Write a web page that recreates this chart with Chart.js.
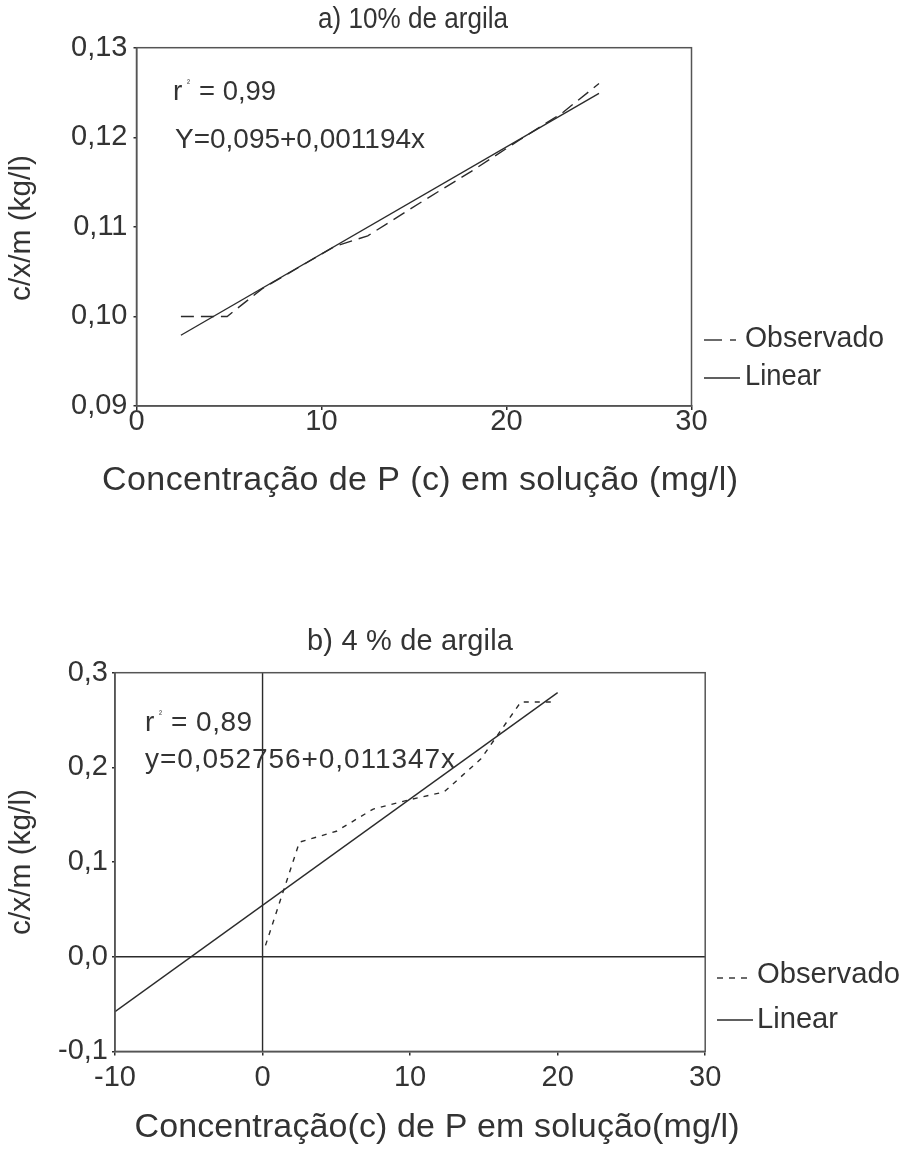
<!DOCTYPE html>
<html>
<head>
<meta charset="utf-8">
<script src="https://cdn.jsdelivr.net/npm/chart.js@4/dist/chart.umd.min.js"></script>
<style>
  body { margin: 0; background: #fff; width: 908px; height: 1155px; position: relative; overflow: hidden; }
  canvas { position: absolute; left: 0; }
  #c1 { top: 0; }
  #c2 { top: 560px; }
</style>
</head>
<body>
<canvas id="c1" width="908" height="540" style="width:908px;height:540px"></canvas>
<canvas id="c2" width="908" height="595" style="width:908px;height:595px"></canvas>
<script>
// a) 10% de argila
var obsA_x = [2.4, 4.9, 6.8, 10.7, 12.5, 15.5, 18.1, 20.7, 23, 25];
var obsA_y = [0.100, 0.100, 0.1031, 0.1078, 0.1090, 0.1129, 0.1162, 0.1197, 0.1227, 0.1260];
var linA_x = [2.4, 25];
var linA_y = [0.0979, 0.1249];
var ticksA_x = [0, 10, 20, 30];
var ticksA_y = [0.09, 0.10, 0.11, 0.12, 0.13];

// b) 4 % de argila
var obsB_x = [0.2, 2.5, 5, 7.5, 10, 12.3, 14.8, 17.5, 19.7];
var obsB_y = [0.012, 0.121, 0.1325, 0.156, 0.166, 0.174, 0.209, 0.269, 0.269];
var linB_x = [-10, 20];
var linB_y = [-0.058, 0.279];
var ticksB_x = [-10, 0, 10, 20, 30];
var ticksB_y = [-0.1, 0.0, 0.1, 0.2, 0.3];

var FONT = "'Liberation Sans Narrow', 'Arial Narrow', 'Liberation Sans', Arial, sans-serif";
var INK = '#2b2b2b';
var TXT = '#333';

Chart.defaults.font.family = FONT;
Chart.defaults.color = TXT;

function pts(xs, ys) {
  return xs.map(function (x, i) { return {x: x, y: ys[i]}; });
}

// draws text stretched/squeezed to a given width
function fitText(ctx, txt, x, y, size, w, align, rot) {
  ctx.save();
  ctx.font = size + 'px ' + FONT;
  ctx.fillStyle = TXT;
  ctx.textBaseline = 'alphabetic';
  ctx.textAlign = 'left';
  ctx.letterSpacing = '0px';
  var nat = ctx.measureText(txt).width;
  var sx = 1, ls = 0;
  if (w) {
    if (nat > w) sx = w / nat;
    else if (txt.length > 1) ls = (w - nat) / (txt.length - 1);
  }
  var total = w || nat;
  ctx.translate(x, y);
  if (rot) ctx.rotate(-Math.PI / 2);
  var x0 = align === 'center' ? -total / 2 : 0;
  ctx.letterSpacing = ls + 'px';
  ctx.translate(x0, 0);
  ctx.scale(sx, 1);
  ctx.fillText(txt, 0, 0);
  ctx.restore();
}

function line(ctx, x1, y1, x2, y2, dash) {
  ctx.save();
  ctx.strokeStyle = INK;
  ctx.lineWidth = 1.4;
  ctx.setLineDash(dash || []);
  ctx.beginPath();
  ctx.moveTo(x1, y1);
  ctx.lineTo(x2, y2);
  ctx.stroke();
  ctx.restore();
}

function decor(spec) {
  return {
    id: 'decor',
    beforeDatasetsDraw: function (chart) {
      if (!spec.zeroLines) return;
      var a = chart.chartArea, ctx = chart.ctx;
      var x0 = chart.scales.x.getPixelForValue(0);
      var y0 = chart.scales.y.getPixelForValue(0);
      line(ctx, x0, a.top, x0, a.bottom);
      line(ctx, a.left, y0, a.right, y0);
    },
    afterDraw: function (chart) {
      var a = chart.chartArea, ctx = chart.ctx;
      ctx.save();
      ctx.strokeStyle = '#555';
      ctx.lineWidth = 1.5;
      ctx.strokeRect(a.left, a.top, a.right - a.left, a.bottom - a.top);
      ctx.restore();
      spec.texts.forEach(function (t) {
        fitText(ctx, t[0], t[1], t[2], t[3], t[4], t[5], t[6]);
      });
      spec.legend.forEach(function (l) {
        l.segs.forEach(function (s) { line(ctx, s[0], l.y, s[1], l.y); });
      });
    }
  };
}

function makeChart(id, cfg) {
  return new Chart(document.getElementById(id), {
    type: 'scatter',
    data: {
      datasets: [
        {label: 'Observado', data: cfg.obs, showLine: true, borderColor: INK, borderWidth: 1.4,
         borderDash: cfg.dash, pointRadius: 0, fill: false},
        {label: 'Linear', data: cfg.lin, showLine: true, borderColor: INK, borderWidth: 1.4,
         pointRadius: 0, fill: false}
      ]
    },
    options: {
      responsive: false,
      animation: false,
      layout: {padding: {top: cfg.top, right: cfg.right, left: 0, bottom: 0}},
      plugins: {legend: {display: false}, tooltip: {enabled: false}},
      scales: {
        x: {
          type: 'linear', min: cfg.xt[0], max: cfg.xt[cfg.xt.length - 1],
          afterBuildTicks: function (s) { s.ticks = cfg.xt.map(function (v) { return {value: v}; }); },
          ticks: {font: {size: 29, lineHeight: 1}, color: TXT, padding: cfg.xpad, maxRotation: 0,
                  callback: function (v) { return String(v); }},
          grid: {drawOnChartArea: false, tickLength: 4, color: INK, lineWidth: 1.5},
          border: {color: '#555', width: 1.5},
          afterFit: function (s) { s.height = cfg.xh; }
        },
        y: {
          type: 'linear', min: cfg.yt[0], max: cfg.yt[cfg.yt.length - 1],
          afterBuildTicks: function (s) { s.ticks = cfg.yt.map(function (v) { return {value: v}; }); },
          ticks: {font: {size: 29, lineHeight: 1}, color: TXT, padding: cfg.ypad,
                  callback: function (v) { return v.toFixed(cfg.dec).replace('.', ','); }},
          grid: {drawOnChartArea: false, tickLength: 3, color: INK, lineWidth: 1.5},
          border: {color: '#555', width: 1.5},
          afterFit: function (s) { s.width = cfg.yw; }
        }
      }
    },
    plugins: [decor(cfg.spec)]
  });
}

makeChart('c1', {
  obs: pts(obsA_x, obsA_y), lin: pts(linA_x, linA_y), dash: [13, 7],
  xt: ticksA_x, yt: ticksA_y, dec: 2,
  top: 47.7, right: 216.5, xh: 134, yw: 136.5, xpad: -3, ypad: 6,
  spec: {
    zeroLines: false,
    texts: [
      ['a) 10% de argila', 413, 28, 29, 190, 'center'],
      ['c/x/m (kg/l)', 30, 228, 30, 146, 'center', true],
      ['Concentração de P (c) em solução (mg/l)', 420, 490, 34, 636, 'center'],
      ['r', 173, 100, 28],
      ['\u00b2', 187, 86, 9],
      ['= 0,99', 199, 100, 28, 77],
      ['Y=0,095+0,001194x', 175, 148, 28, 250],
      ['Observado', 745, 347, 30, 139],
      ['Linear', 745, 385, 30, 76]
    ],
    legend: [
      {y: 340, segs: [[704, 722], [730, 736]]},
      {y: 378, segs: [[704, 740]]}
    ]
  }
});

makeChart('c2', {
  obs: pts(obsB_x, obsB_y), lin: pts(linB_x, linB_y), dash: [5, 6],
  xt: ticksB_x, yt: ticksB_y, dec: 1,
  top: 112.7, right: 202.8, xh: 103.6, yw: 115, xpad: 8, ypad: 4,
  spec: {
    zeroLines: true,
    texts: [
      ['b) 4 % de argila', 410, 90, 29, 206, 'center'],
      ['c/x/m (kg/l)', 30, 302, 30, 146, 'center', true],
      ['Concentração(c) de P em solução(mg/l)', 437, 577, 34, 605, 'center'],
      ['r', 145, 171, 28],
      ['\u00b2', 159, 157, 9],
      ['= 0,89', 171, 171, 28, 81],
      ['y=0,052756+0,011347x', 145, 208, 28, 310],
      ['Observado', 757, 423, 30, 143],
      ['Linear', 757, 468, 30, 81]
    ],
    legend: [
      {y: 418, segs: [[717, 723], [729, 735], [741, 747]]},
      {y: 460, segs: [[717, 753]]}
    ]
  }
});
</script>
</body>
</html>
